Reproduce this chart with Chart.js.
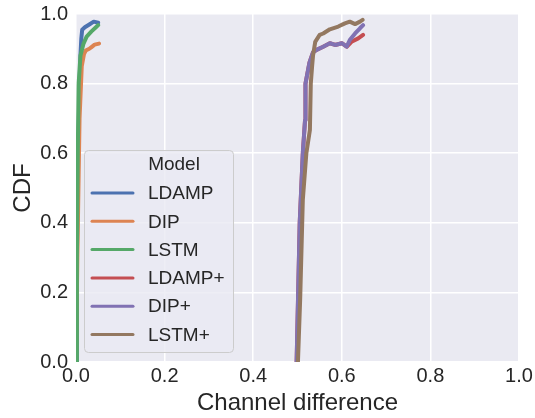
<!DOCTYPE html>
<html>
<head>
<meta charset="utf-8">
<script src="https://cdn.jsdelivr.net/npm/chart.js@4.4.1/dist/chart.umd.min.js"></script>
<style>
  html, body { margin: 0; padding: 0; background: #fff; }
  #wrap { width: 535px; height: 418px; }
</style>
</head>
<body>
<div id="wrap"><canvas id="ch1"></canvas></div>
<script>
// models and colours (seaborn "deep")
const models = ['LDAMP', 'DIP', 'LSTM', 'LDAMP+', 'DIP+', 'LSTM+'];
const colors = ['#4C72B0', '#DD8452', '#55A868', '#C44E52', '#8172B3', '#937860'];

// ECDF curves
const ldampX = [0, 0.002, 0.005, 0.008, 0.010, 0.012, 0.014, 0.020, 0.030, 0.040, 0.050];
const ldampY = [0, 0.30, 0.60, 0.80, 0.88, 0.93, 0.955, 0.962, 0.970, 0.978, 0.975];

const dipX = [0, 0.003, 0.008, 0.013, 0.018, 0.022, 0.030, 0.035, 0.042, 0.052];
const dipY = [0, 0.30, 0.70, 0.85, 0.885, 0.895, 0.900, 0.905, 0.912, 0.915];

const lstmX = [0, 0.002, 0.004, 0.006, 0.010, 0.017, 0.024, 0.035, 0.045, 0.050];
const lstmY = [0, 0.30, 0.60, 0.80, 0.88, 0.915, 0.935, 0.950, 0.962, 0.968];

const ldampPX = [0.498, 0.505, 0.512, 0.517, 0.518, 0.527, 0.535, 0.543, 0.558, 0.573, 0.585, 0.600, 0.611, 0.622, 0.637, 0.648];
const ldampPY = [0, 0.40, 0.60, 0.695, 0.80, 0.86, 0.89, 0.897, 0.906, 0.916, 0.911, 0.916, 0.906, 0.920, 0.930, 0.940];

const dipPX = [0.498, 0.505, 0.512, 0.517, 0.518, 0.527, 0.535, 0.543, 0.558, 0.573, 0.585, 0.600, 0.611, 0.618, 0.630, 0.641, 0.648];
const dipPY = [0, 0.40, 0.60, 0.695, 0.80, 0.86, 0.89, 0.897, 0.906, 0.916, 0.911, 0.916, 0.906, 0.925, 0.944, 0.959, 0.968];

const lstmPX = [0.501, 0.506, 0.512, 0.520, 0.528, 0.530, 0.533, 0.535, 0.540, 0.550, 0.558, 0.573, 0.592, 0.607, 0.618, 0.630, 0.641, 0.647];
const lstmPY = [0, 0.18, 0.466, 0.60, 0.667, 0.80, 0.85, 0.88, 0.92, 0.94, 0.944, 0.956, 0.964, 0.973, 0.978, 0.971, 0.978, 0.983];

const seriesX = [ldampX, dipX, lstmX, ldampPX, dipPX, lstmPX];
const seriesY = [ldampY, dipY, lstmY, ldampPY, dipPY, lstmPY];

const xTicks = [0, 0.2, 0.4, 0.6, 0.8, 1.0];
const yTicks = [0, 0.2, 0.4, 0.6, 0.8, 1.0];

const ink = '#262626';
const fam = '"Liberation Sans", Arial, sans-serif';

const datasets = models.map((m, i) => ({
  label: m,
  data: seriesX[i].map((x, j) => ({ x: x, y: seriesY[i][j] })),
  borderColor: colors[i],
  backgroundColor: colors[i],
  borderWidth: 4,
  pointRadius: 0,
  tension: 0,
  borderJoinStyle: 'round',
  borderCapStyle: 'round',
  order: models.length - i
}));

// grey panel behind the plot
const panelBg = {
  id: 'panelBg',
  beforeDraw(chart) {
    const { ctx, chartArea: a } = chart;
    ctx.save();
    ctx.fillStyle = '#EAEAF2';
    ctx.fillRect(a.left, a.top, a.right - a.left, a.bottom - a.top);
    ctx.restore();
  }
};

// matplotlib-ish legend box inside the axes
const boxLegend = {
  id: 'boxLegend',
  afterDraw(chart) {
    const ctx = chart.ctx;
    const x0 = 84, y0 = 150, w = 149, h = 202, r = 4;
    ctx.save();
    ctx.beginPath();
    ctx.roundRect(x0 + 0.5, y0 + 0.5, w, h, r);
    ctx.fillStyle = 'rgba(234,234,242,0.8)';
    ctx.fill();
    ctx.strokeStyle = '#cccccc';
    ctx.lineWidth = 1;
    ctx.stroke();

    ctx.font = '19px ' + fam;
    ctx.fillStyle = ink;
    ctx.textBaseline = 'middle';
    ctx.textAlign = 'center';
    ctx.fillText('Model', 174, 165);
    ctx.textAlign = 'left';
    chart.data.datasets.forEach((ds, i) => {
      const y = 193 + i * 28.3;
      ctx.beginPath();
      ctx.moveTo(92, y);
      ctx.lineTo(133, y);
      ctx.strokeStyle = ds.borderColor;
      ctx.lineWidth = 3;
      ctx.lineCap = 'round';
      ctx.stroke();
      ctx.fillText(ds.label, 148, y + 1);
    });
    ctx.restore();
  }
};

const ctx = document.getElementById('ch1').getContext('2d');
const myChart = new Chart(ctx, {
  type: 'line',
  data: { datasets: datasets },
  options: {
    responsive: true,
    maintainAspectRatio: false,
    animation: false,
    layout: { padding: { left: 0, top: 14, right: 16, bottom: 0 } },
    plugins: { legend: { display: false }, tooltip: { enabled: false } },
    scales: {
      x: {
        type: 'linear',
        min: 0, max: 1,
        afterBuildTicks: s => { s.ticks = xTicks.map(v => ({ value: v })); },
        afterFit: s => { s.height = 56; s.paddingLeft = 0; s.paddingRight = 0; },
        ticks: { color: ink, font: { size: 20, family: fam }, padding: 2,
                 maxRotation: 0, callback: v => v.toFixed(1) },
        grid: { color: '#ffffff', lineWidth: 1.5, drawTicks: false },
        border: { display: false },
        title: { display: true, text: 'Channel difference', color: ink,
                 font: { size: 24, family: fam }, padding: { top: 0, bottom: 0 } }
      },
      y: {
        type: 'linear',
        min: 0, max: 1,
        afterBuildTicks: s => { s.ticks = yTicks.map(v => ({ value: v })); },
        afterFit: s => { s.width = 76; s.paddingTop = 0; s.paddingBottom = 0; },
        ticks: { color: ink, font: { size: 20, family: fam }, padding: 8,
                 callback: v => v.toFixed(1) },
        grid: { color: '#ffffff', lineWidth: 1.5, drawTicks: false },
        border: { display: false },
        title: { display: true, text: 'CDF', color: ink,
                 font: { size: 24, family: fam }, padding: { top: 9, bottom: 0 } }
      }
    }
  },
  plugins: [panelBg, boxLegend]
});
</script>
</body>
</html>
